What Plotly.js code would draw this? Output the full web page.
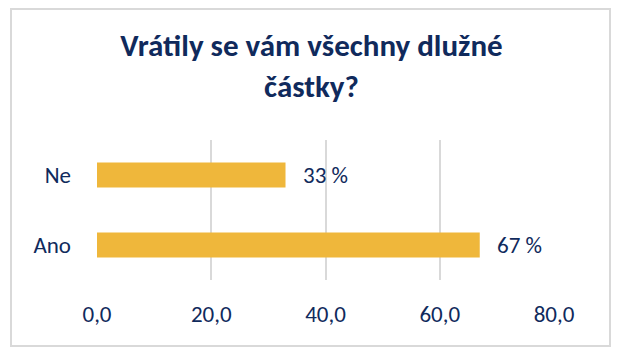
<!DOCTYPE html>
<html><head><meta charset="utf-8">
<script src="https://cdn.plot.ly/plotly-3.0.1.min.js"></script>
<style>
html,body{margin:0;padding:0;background:#fff;}
#wrap{position:relative;width:623px;height:359px;}
#chart{width:623px;height:359px;}
#frame{position:absolute;left:10px;top:8px;width:597px;height:335px;border:2px solid #D9D9D9;pointer-events:none;}
</style></head>
<body><div id="wrap"><div id="chart"></div><div id="frame"></div></div>
<script>
const categories = ["Ano", "Ne"];
const values = [67, 33];
const tickVals = [0, 20, 40, 60, 80];
const titleText = "Vrátily se vám všechny dlužné<br>částky?";
const navy = "#102A5C";
const fontFam = "Carlito, Lato, 'Open Sans', sans-serif";

const trace = {
  type: "bar", orientation: "h",
  y: categories, x: values,
  marker: {color: "#EFB73B"},
  width: 0.36,
  hoverinfo: "skip"
};
const annotations = values.map((v, i) => ({
  x: v, y: categories[i], xref: "x", yref: "y",
  text: v.toFixed(0) + " %", showarrow: false,
  xanchor: "left", xshift: 15,
  font: {family: fontFam, size: 23, color: navy}
}));
const layout = {
  width: 623, height: 359,
  margin: {l: 97, r: 69, t: 140, b: 79},
  paper_bgcolor: "#fff", plot_bgcolor: "#fff",
  showlegend: false,
  title: {text: titleText, x: 0.5, xanchor: "center", y: 0.843, yanchor: "middle",
    font: {family: fontFam, size: 31, color: navy, weight: "bold"}},
  separators: ",.",
  xaxis: {range: [0, 80], tickvals: tickVals, tickformat: ".1f",
    showgrid: true, gridcolor: "#D9D9D9", gridwidth: 2, zeroline: false,
    showline: false, ticks: "", ticklabelstandoff: 18,
    tickfont: {family: fontFam, size: 23, color: navy}, fixedrange: true},
  yaxis: {categoryorder: "array", categoryarray: categories,
    showgrid: false, zeroline: false, showline: false, ticks: "",
    ticklabelstandoff: 25,
    tickfont: {family: fontFam, size: 23, color: navy}, fixedrange: true},
  annotations: annotations
};
Plotly.newPlot("chart", [trace], layout, {displayModeBar: false, staticPlot: true});
</script></body></html>
